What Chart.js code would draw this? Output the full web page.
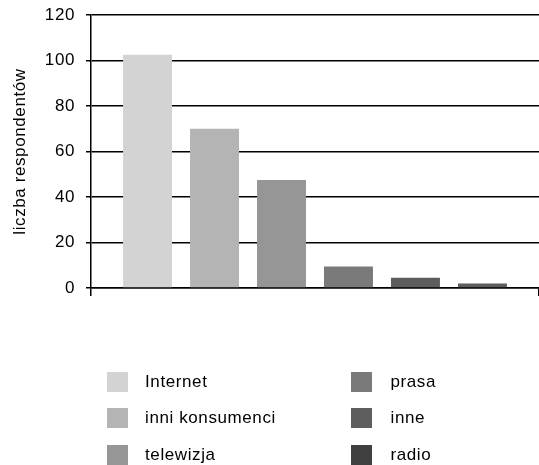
<!DOCTYPE html>
<html lang="pl">
<head>
<meta charset="utf-8">
<title>Źródła informacji</title>
<script src="https://cdn.jsdelivr.net/npm/chart.js@4/dist/chart.umd.min.js"></script>
<style>
  html, body { margin: 0; padding: 0; background: #ffffff; }
  #wrap { width: 539px; height: 465px; }
  canvas { display: block; }
</style>
</head>
<body>
<div id="wrap"><canvas id="chart" width="539" height="465"></canvas></div>
<script>
// One group on the x axis, one bar per source
const categories = [''];
const seriesNames = ['Internet', 'inni konsumenci', 'telewizja', 'prasa', 'inne', 'radio'];
const seriesValues = [102.5, 70, 47.5, 9.5, 4.5, 2];
const yTickLabels = [0, 20, 40, 60, 80, 100, 120];
const yAxisTitle = 'liczba respondentów';

const barColors = ['#d3d3d3', '#b4b4b4', '#969696', '#7a7a7a', '#5d5d5d', '#5d5d5d'];
const legendColors = ['#d3d3d3', '#b4b4b4', '#969696', '#7a7a7a', '#5e5e5e', '#404040'];

const FONT_FAMILY = '"Liberation Sans", Arial, Helvetica, sans-serif';
const FONT_SIZE = 17;
const LETTER_SPACING = '0.6px';

// slightly open letter spacing for every text the chart draws
const spacingPlugin = {
  id: 'spacing',
  beforeUpdate(chart) { chart.ctx.letterSpacing = LETTER_SPACING; },
  beforeLayout(chart) { chart.ctx.letterSpacing = LETTER_SPACING; },
  beforeDraw(chart) { chart.ctx.letterSpacing = LETTER_SPACING; }
};

// two-column legend below the plot, filled column by column
const columnLegend = {
  id: 'columnLegend',
  afterDraw(chart) {
    const ctx = chart.ctx;
    const rowsPerCol = 3;
    const boxX = [107, 351];
    const textX = [145, 390.5];
    const rowY = [381.5, 418.2, 455];
    ctx.save();
    ctx.letterSpacing = LETTER_SPACING;
    ctx.font = FONT_SIZE + 'px ' + FONT_FAMILY;
    ctx.textBaseline = 'middle';
    ctx.textAlign = 'left';
    chart.data.datasets.forEach((ds, i) => {
      const col = Math.floor(i / rowsPerCol);
      const row = i % rowsPerCol;
      const y = rowY[row];
      ctx.fillStyle = legendColors[i];
      ctx.fillRect(boxX[col], Math.round(y - 10), 21, 20);
      ctx.fillStyle = '#000000';
      ctx.fillText(ds.label, textX[col], y + 0.5);
    });
    ctx.restore();
  }
};

const datasets = seriesNames.map((name, i) => ({
  label: name,
  data: [seriesValues[i]],
  backgroundColor: barColors[i],
  borderWidth: 0,
  categoryPercentage: 0.897,
  barPercentage: 0.731
}));

new Chart(document.getElementById('chart'), {
  type: 'bar',
  data: { labels: categories, datasets },
  options: {
    responsive: false,
    animation: false,
    devicePixelRatio: 1,
    layout: { padding: { top: 15, left: 0, right: 0, bottom: 169 } },
    plugins: {
      legend: { display: false },
      tooltip: { enabled: false },
      title: { display: false }
    },
    scales: {
      x: {
        offset: true,
        grid: {
          display: true,
          drawOnChartArea: false,
          drawTicks: true,
          tickLength: 8,
          color: '#000000',
          lineWidth: 1.5
        },
        border: { display: true, color: '#000000', width: 1.5 },
        ticks: { display: false },
        afterFit(scale) {
          scale.height = 8;
          scale.paddingLeft = 0;
          scale.paddingRight = 0;
        }
      },
      y: {
        min: yTickLabels[0],
        max: yTickLabels[yTickLabels.length - 1],
        afterBuildTicks(scale) {
          scale.ticks = yTickLabels.map(v => ({ value: v }));
        },
        ticks: {
          color: '#000000',
          padding: 11,
          font: { family: FONT_FAMILY, size: FONT_SIZE }
        },
        grid: {
          color: '#000000',
          lineWidth: 1.5,
          drawTicks: true,
          tickLength: 5
        },
        border: { display: true, color: '#000000', width: 1.5 },
        title: {
          display: true,
          text: yAxisTitle,
          color: '#000000',
          font: { family: FONT_FAMILY, size: FONT_SIZE },
          padding: { top: 10.5, bottom: 0 }
        },
        afterFit(scale) {
          scale.width = 91;
          // plot edges come from the layout padding, not from the tick labels
          scale.paddingTop = 0;
          scale.paddingBottom = 0;
        }
      }
    }
  },
  plugins: [spacingPlugin, columnLegend]
});
</script>
</body>
</html>
